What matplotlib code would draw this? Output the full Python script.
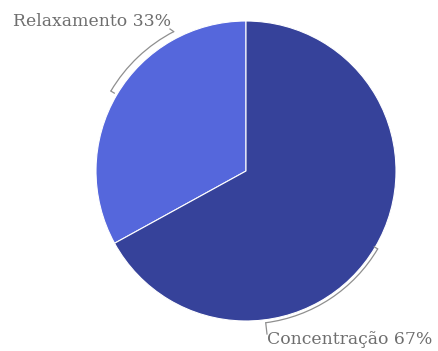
import numpy as np
import matplotlib.pyplot as plt
from matplotlib.patches import Arc

labels = ["Relaxamento", "Concentração"]
values = [33, 67]
colors = ["#5567DC", "#36429A"]

W, H = 438, 351
fig = plt.figure(figsize=(W / 100, H / 100), dpi=100)
ax = fig.add_axes([0, 0, 1, 1])
ax.set_xlim(0, W)
ax.set_ylim(0, H)
ax.set_aspect("equal")
ax.axis("off")

cx, cy, R = 246, 180, 150
wedges, _ = ax.pie(values, colors=colors, startangle=90, counterclock=True,
                   center=(cx, cy), radius=R,
                   wedgeprops=dict(edgecolor="white", linewidth=0.8))
ax.set_xlim(0, W)
ax.set_ylim(0, H)

line_col = "#8f8f8f"
txt_col = "#6e6e6e"
font = ["DejaVu Serif"]


def bracket(a_mid, a_end, r, label_xy):
    a0, a1 = sorted([a_mid, a_end])
    ax.add_patch(Arc((cx, cy), 2 * r, 2 * r, theta1=a0, theta2=a1,
                     color=line_col, lw=0.9))
    # inward tick at the slice middle
    t = np.radians(a_mid)
    ax.plot([cx + r * np.cos(t), cx + (r - 4) * np.cos(t)],
            [cy + r * np.sin(t), cy + (r - 4) * np.sin(t)],
            color=line_col, lw=0.9)
    # leader from the far end toward the label
    t = np.radians(a_end)
    ex, ey = cx + r * np.cos(t), cy + r * np.sin(t)
    ax.plot([ex, label_xy[0]], [ey, label_xy[1]], color=line_col, lw=0.9)


for w, lab, v in zip(wedges, labels, values):
    mid = (w.theta1 + w.theta2) / 2
    if lab == "Relaxamento":
        bracket(mid, mid - 32, 157, (170, 322))
        ax.text(171, 329, f"{lab} {v}%", ha="right", va="center",
                color=txt_col, fontsize=12.4, family=font)
    else:
        mid = mid - 360 if mid > 180 else mid
        bracket(mid, mid - 52, 153, (267, 17))
        ax.text(267, 11, f"{lab} {v}%", ha="left", va="center",
                color=txt_col, fontsize=12.4, family=font)

fig.savefig("out.png", dpi=100, facecolor="white")
